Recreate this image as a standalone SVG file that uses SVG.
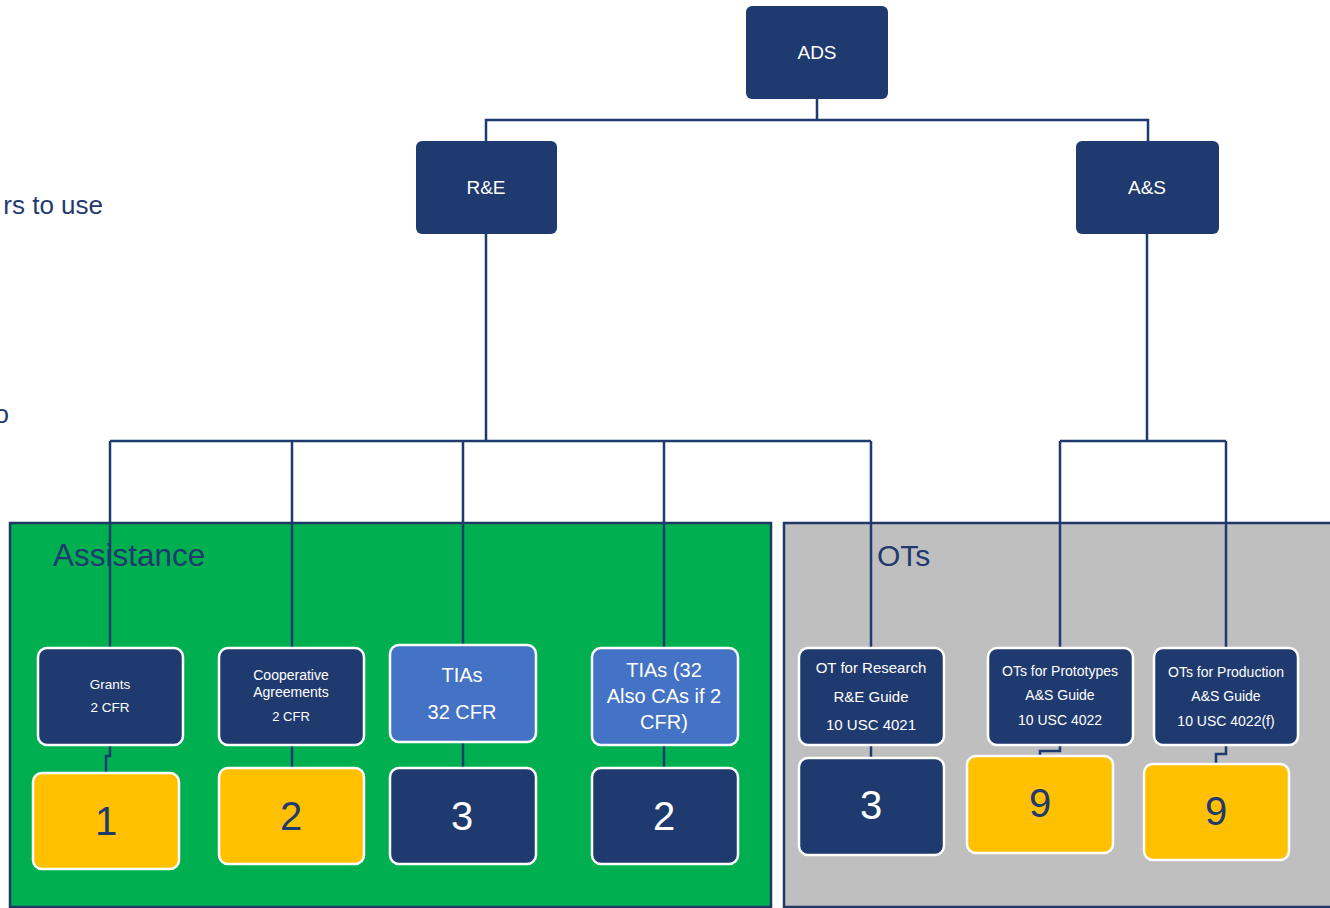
<svg xmlns="http://www.w3.org/2000/svg" width="1330" height="908" viewBox="0 0 1330 908">
<style>
.bg{fill:#ffffff}
.grp{stroke:#1F3864;stroke-width:2.5}
.top{fill:#1F3A6E}
.dk{fill:#1F3A6E;stroke:#ffffff;stroke-width:2.5}
.lt{fill:#4472C4;stroke:#ffffff;stroke-width:2.5}
.yl{fill:#FFC000;stroke:#ffffff;stroke-width:2.5}
.w{fill:#ffffff;font-family:"Liberation Sans",Arial,sans-serif;text-anchor:middle}
.n{fill:#1F3A6E;font-family:"Liberation Sans",Arial,sans-serif;text-anchor:middle;font-size:40px}
.nw{fill:#ffffff;font-family:"Liberation Sans",Arial,sans-serif;text-anchor:middle;font-size:40px}
.hd{fill:#1F3A6E;font-family:"Liberation Sans",Arial,sans-serif}
.side{fill:#1F3A6E;font-family:"Liberation Sans",Arial,sans-serif;font-size:26px;text-anchor:end}
.c{fill:none;stroke:#1F3A6E;stroke-width:2.5}
</style>
<rect class="bg" x="0" y="0" width="1330" height="908"/>
<text class="side" x="103" y="214">rs  to use</text>
<text class="side" x="9" y="423">o</text>
<g id="area-assistance">
<rect class="grp" x="10" y="523" width="761" height="384" fill="#00B050"/>
<text class="hd" x="53" y="566" font-size="31.5">Assistance</text>
</g>
<g id="area-ots">
<rect class="grp" x="784" y="523" width="560" height="384" fill="#BFBFBF"/>
<text class="hd" x="877" y="566" font-size="30">OTs</text>
</g>
<g id="connectors">
<path class="c" d="M817 99V120M486 141V120H1148V141"/>
<path class="c" d="M486 234V441M110 441H871M110 441V648M292 441V648M463 441V645M664 441V648M871 441V648"/>
<path class="c" d="M1147 234V441M1060 441H1226M1060 441V648M1226 441V648"/>
<path class="c" d="M110 745V756H106V773"/>
<path class="c" d="M292 745V768M463 742V768M664 745V768M871 745V758"/>
<path class="c" d="M1060 745V751H1040V756"/>
<path class="c" d="M1226 745V754H1216V764"/>
</g>
<g id="ads"><rect class="top" x="746" y="6" width="142" height="93" rx="6"/><text class="w" x="817" y="59" font-size="19">ADS</text></g>
<g id="re"><rect class="top" x="416" y="141" width="141" height="93" rx="6"/><text class="w" x="486" y="194" font-size="19">R&amp;E</text></g>
<g id="as"><rect class="top" x="1076" y="141" width="143" height="93" rx="6"/><text class="w" x="1147" y="194" font-size="19">A&amp;S</text></g>
<g id="grants"><rect class="dk" x="38" y="648" width="145" height="97" rx="9"/><text class="w" x="110" y="689" font-size="13.5">Grants</text><text class="w" x="110" y="712" font-size="13.5">2 CFR</text></g>
<g id="coop"><rect class="dk" x="219" y="648" width="145" height="97" rx="9"/><text class="w" x="291" y="680" font-size="14">Cooperative</text><text class="w" x="291" y="697" font-size="14">Agreements</text><text class="w" x="291" y="721" font-size="13">2 CFR</text></g>
<g id="tias"><rect class="lt" x="390" y="645" width="146" height="97" rx="9"/><text class="w" x="462" y="682" font-size="20">TIAs</text><text class="w" x="462" y="719" font-size="20">32 CFR</text></g>
<g id="tias2"><rect class="lt" x="592" y="648" width="146" height="97" rx="9"/><text class="w" x="664" y="677" font-size="20">TIAs (32</text><text class="w" x="664" y="703" font-size="20">Also CAs if 2</text><text class="w" x="664" y="729" font-size="20">CFR)</text></g>
<g id="ot-research"><rect class="dk" x="799" y="648" width="145" height="97" rx="9"/><text class="w" x="871" y="673" font-size="15">OT for Research</text><text class="w" x="871" y="702" font-size="15">R&amp;E Guide</text><text class="w" x="871" y="730" font-size="15">10 USC 4021</text></g>
<g id="ot-proto"><rect class="dk" x="988" y="648" width="145" height="97" rx="9"/><text class="w" x="1060" y="676" font-size="14">OTs for Prototypes</text><text class="w" x="1060" y="700" font-size="14">A&amp;S Guide</text><text class="w" x="1060" y="725" font-size="14">10 USC 4022</text></g>
<g id="ot-prod"><rect class="dk" x="1154" y="648" width="144" height="97" rx="9"/><text class="w" x="1226" y="677" font-size="14">OTs for Production</text><text class="w" x="1226" y="701" font-size="14">A&amp;S Guide</text><text class="w" x="1226" y="726" font-size="14">10 USC 4022(f)</text></g>
<g id="num-grants"><rect class="yl" x="33" y="773" width="146" height="96" rx="9"/><text class="n" x="106" y="835">1</text></g>
<g id="num-coop"><rect class="yl" x="219" y="768" width="145" height="96" rx="9"/><text class="n" x="291" y="830">2</text></g>
<g id="num-tias"><rect class="dk" x="390" y="768" width="146" height="96" rx="9"/><text class="nw" x="462" y="830">3</text></g>
<g id="num-tias2"><rect class="dk" x="592" y="768" width="146" height="96" rx="9"/><text class="nw" x="664" y="830">2</text></g>
<g id="num-research"><rect class="dk" x="799" y="758" width="145" height="97" rx="9"/><text class="nw" x="871" y="819">3</text></g>
<g id="num-proto"><rect class="yl" x="967" y="756" width="146" height="97" rx="9"/><text class="n" x="1040" y="817">9</text></g>
<g id="num-prod"><rect class="yl" x="1144" y="764" width="145" height="96" rx="9"/><text class="n" x="1216" y="825">9</text></g>
</svg>
